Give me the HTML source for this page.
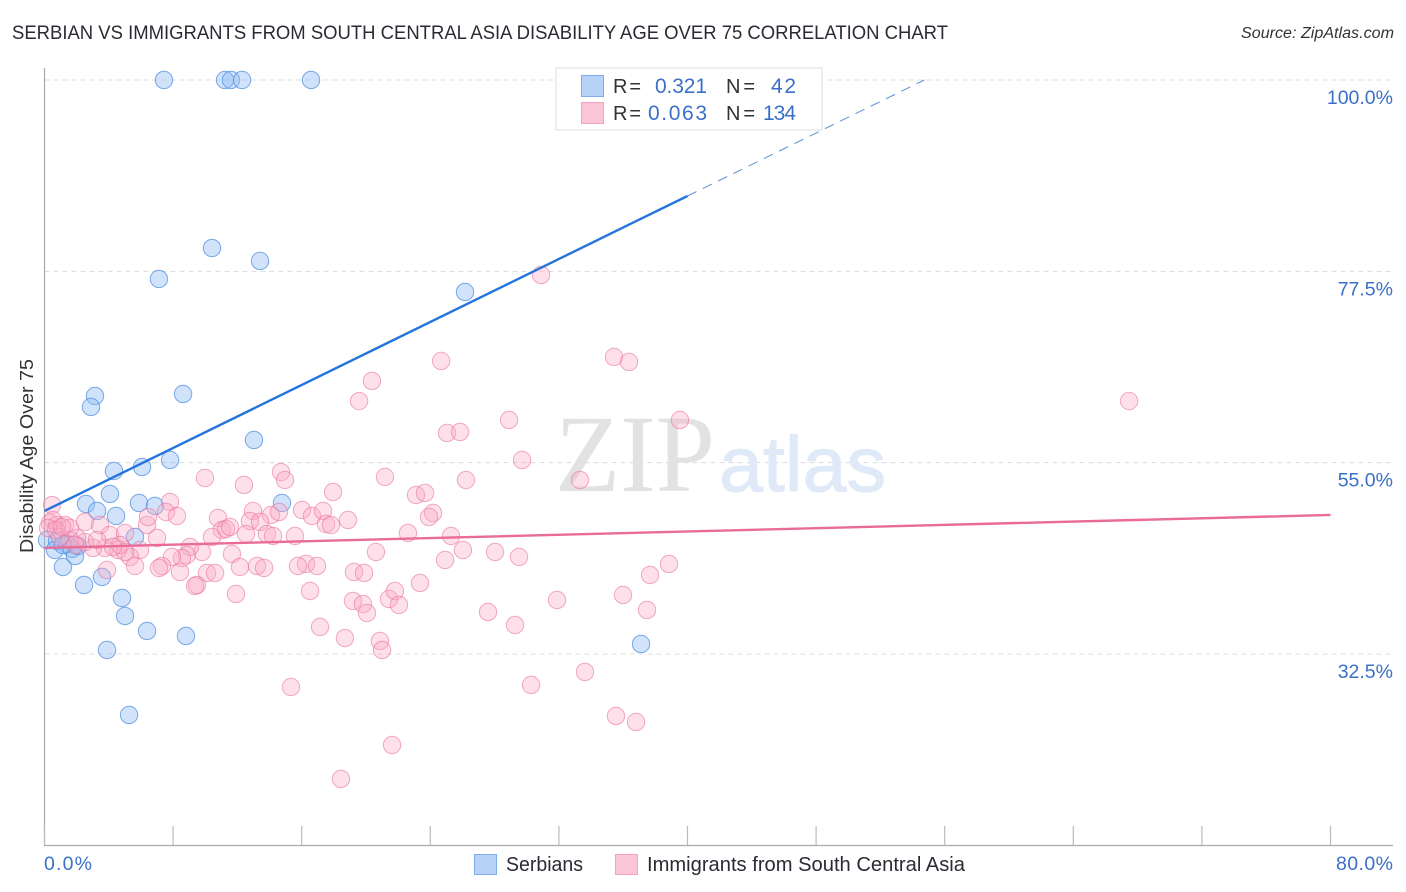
<!DOCTYPE html>
<html lang="en">
<head>
<meta charset="utf-8">
<title>Serbian vs Immigrants from South Central Asia Disability Age Over 75 Correlation Chart</title>
<style>
html,body{margin:0;padding:0;background:#fff;}
svg{display:block;font-family:"Liberation Sans",sans-serif;}
</style>
</head>
<body>
<svg id="chart" width="1406" height="892" viewBox="0 0 1406 892" xmlns="http://www.w3.org/2000/svg">
  <rect x="0" y="0" width="1406" height="892" fill="#fff"/>
  <text x="12" y="39" font-size="19" fill="#2a2a33" textLength="936" lengthAdjust="spacingAndGlyphs">SERBIAN VS IMMIGRANTS FROM SOUTH CENTRAL ASIA DISABILITY AGE OVER 75 CORRELATION CHART</text>
  <text x="1241" y="38" font-size="15.5" font-style="italic" fill="#333" textLength="153" lengthAdjust="spacingAndGlyphs">Source: ZipAtlas.com</text>
  <g id="grid"></g>
  <g>
    <text x="555" y="491" font-family="'Liberation Serif',serif" font-size="110" fill="#e2e2e2" textLength="160" lengthAdjust="spacingAndGlyphs">ZIP</text>
    <text x="719" y="491" font-size="78" fill="#dfe9f7" stroke="#dfe9f7" stroke-width="1" textLength="167" lengthAdjust="spacingAndGlyphs">atlas</text>
  </g>
  <g id="axes"></g>
  <g id="points-serbians"></g>
  <g id="points-immigrants"></g>
  <g id="trends"></g>
  <g>
    <rect x="556" y="68" width="266" height="62" fill="#fff" stroke="#dcdcdc" stroke-width="1"/>
    <rect x="581.5" y="75.5" width="22" height="21" fill="#b7d2f7" stroke="#7fadea" stroke-width="1"/>
    <rect x="581.5" y="102.5" width="22" height="21" fill="#fcc5d8" stroke="#f2a3c0" stroke-width="1"/>
    <g font-size="20">
      <text x="613" y="93" fill="#333" textLength="28" lengthAdjust="spacing">R =</text>
      <text x="655" y="93" fill="#3a70c8" font-size="21" textLength="52" lengthAdjust="spacing">0.321</text>
      <text x="726" y="93" fill="#333" textLength="29" lengthAdjust="spacing">N =</text>
      <text x="771" y="93" fill="#3a70c8" font-size="21" textLength="25" lengthAdjust="spacing">42</text>
      <text x="613" y="120" fill="#333" textLength="28" lengthAdjust="spacing">R =</text>
      <text x="648" y="120" fill="#3a70c8" font-size="21" textLength="59" lengthAdjust="spacing">0.063</text>
      <text x="726" y="120" fill="#333" textLength="29" lengthAdjust="spacing">N =</text>
      <text x="763" y="120" fill="#3a70c8" font-size="21" textLength="33" lengthAdjust="spacing">134</text>
    </g>
  </g>
  <text transform="translate(33,456) rotate(-90)" font-size="18" fill="#333" text-anchor="middle" textLength="194" lengthAdjust="spacingAndGlyphs">Disability Age Over 75</text>
  <g>
    <rect x="474.5" y="854.5" width="22" height="20" fill="#b7d2f7" stroke="#7fadea" stroke-width="1"/>
    <text x="506" y="871" font-size="20" fill="#2a2a33" textLength="77" lengthAdjust="spacingAndGlyphs">Serbians</text>
    <rect x="615.5" y="854.5" width="22" height="20" fill="#fcc5d8" stroke="#f2a3c0" stroke-width="1"/>
    <text x="647" y="871" font-size="20" fill="#2a2a33" textLength="318" lengthAdjust="spacingAndGlyphs">Immigrants from South Central Asia</text>
  </g>
</svg>
<script>
var xTickValues = [0, 8, 16, 24, 32, 40, 48, 56, 64, 72, 80];
var xTickLabels = ["0.0%", "80.0%"];
var yTickValues = [100, 77.5, 55, 32.5];
var yTickLabels = ["100.0%", "77.5%", "55.0%", "32.5%"];

var serbiansX = [7.43,11.23,11.60,12.29,16.58,10.42,13.41,7.12,26.16,3.14,8.62,2.89,13.03,7.81,4.32,6.07,4.07,2.58,5.88,6.87,14.77,3.27,4.45,5.63,1.15,3.58,2.46,4.82,5.01,6.38,8.80,3.89,5.26,37.11,0.16,0.78,0.65,1.40,1.71,1.90,2.08,1.15];
var serbiansY = [100,100,100,100,100,80.24,78.72,76.60,75.07,62.84,63.08,61.55,57.67,55.32,54.02,54.49,51.32,50.14,50.26,49.91,50.26,49.32,48.73,46.26,42.73,41.56,40.62,39.09,36.97,35.21,34.62,32.97,25.33,33.68,45.91,45.79,44.73,45.44,44.85,44.03,45.20,45.32];

var immigrantsX = [67.47,39.53,30.89,35.43,36.36,24.67,20.37,19.57,28.90,25.04,25.85,29.71,33.31,26.22,21.18,9.98,12.41,14.71,14.96,17.95,23.11,23.67,16.02,16.64,17.33,17.51,17.82,18.88,24.17,23.92,22.61,25.29,26.03,20.62,24.92,28.03,29.52,15.58,16.27,16.95,19.25,19.88,23.36,12.97,14.09,14.59,10.79,12.78,13.41,11.04,11.29,11.54,10.42,12.54,13.84,14.22,11.66,9.80,9.05,12.16,13.22,13.66,15.77,10.11,10.61,9.49,9.36,11.91,16.52,19.19,19.81,20.06,21.43,21.80,22.05,17.14,18.69,20.87,21.00,15.33,21.62,18.44,31.88,27.59,29.27,35.99,37.67,38.85,37.48,33.62,30.27,35.55,36.80,0.47,0.34,0.78,1.28,2.52,3.45,4.07,5.01,6.38,6.44,7.81,7.56,8.24,7.00,5.94,5.32,5.63,4.57,3.76,3.02,2.52,2.02,1.59,0.96,3.89,8.86,8.55,7.93,7.31,7.12,8.43,3.27,4.70,5.01,0.53,0.22,0.72,1.59,1.09,4.26,1.90];
var immigrantsY = [62.25,60.02,77.07,67.43,66.84,66.96,64.61,62.25,60.02,58.49,58.61,55.32,52.96,52.96,53.32,53.20,52.38,53.90,52.96,51.55,51.20,51.44,49.44,48.73,49.32,47.79,47.67,48.26,49.08,48.61,46.73,46.38,44.73,44.50,43.56,44.50,43.91,46.38,43.09,42.85,42.15,42.03,40.85,49.32,48.85,49.20,48.50,48.14,48.03,47.08,47.20,47.44,46.26,46.61,46.61,46.38,44.26,44.50,45.09,42.73,42.85,42.62,42.85,42.03,42.03,40.62,40.50,39.56,39.91,38.74,38.38,37.32,38.97,39.91,38.27,35.68,34.38,34.03,32.97,28.62,21.80,17.80,38.85,37.44,35.91,39.44,41.79,43.09,37.68,30.39,28.86,25.21,24.51,50.02,47.91,47.67,47.67,48.03,47.67,46.50,46.73,47.67,48.61,50.38,49.20,48.73,46.14,44.73,43.91,42.85,44.73,44.97,44.97,45.67,46.14,45.91,46.26,42.38,44.14,43.79,43.91,42.85,42.62,42.15,45.91,45.32,44.50,48.26,47.32,47.08,47.32,47.44,45.09,45.32];

var serbiansTrend = [49.32, 0.926];
var immigrantsTrend = [44.97, 0.0485];

var NS = "http://www.w3.org/2000/svg";
function xScale(v) { return 44.5 + v * (1286 / 80); }
function yScale(v) { return 80 + (100 - v) * (574 / 67.5); }
function trendAt(t, x) { return t[0] + t[1] * x; }
function xAtValue(t, y) { return (y - t[0]) / t[1]; }
function make(tag, attrs, parent) {
  var el = document.createElementNS(NS, tag);
  for (var k in attrs) el.setAttribute(k, attrs[k]);
  parent.appendChild(el);
  return el;
}

var grid = document.getElementById("grid");
var axes = document.getElementById("axes");

yTickValues.forEach(function (v, i) {
  var g = make("line", {x1: 44.5, x2: 1393, y1: yScale(v), y2: yScale(v), stroke: "#dcdcdc", "stroke-width": 1, "stroke-dasharray": "5 4"}, grid);
  
  
  var t = make("text", {x: 1393, y: yScale(v) + 24, "text-anchor": "end", "font-size": 19.5, fill: "#3a70c8"}, axes);
  
  
  t.textContent = yTickLabels[i];
});

var yAxis = make("line", {x1: 44.5, x2: 44.5, y1: 68, y2: 845.5, stroke: "#aaa", "stroke-width": 1.2}, axes);


var xAxis = make("line", {x1: 44, x2: 1393, y1: 845.5, y2: 845.5, stroke: "#aaa", "stroke-width": 1.2}, axes);



xTickValues.forEach(function (v) {
  var tk = make("line", {x1: xScale(v), x2: xScale(v), y1: 826, y2: 845, stroke: "#bbb", "stroke-width": 1.2}, axes);
  
  
});

var xLabelLeft = make("text", {x: 44, y: 870, "font-size": 19.5, fill: "#3a70c8", textLength: 48, lengthAdjust: "spacing"}, axes);


xLabelLeft.textContent = xTickLabels[0];
var xLabelRight = make("text", {x: 1336, y: 870, "font-size": 19.5, fill: "#3a70c8", textLength: 57, lengthAdjust: "spacing"}, axes);


xLabelRight.textContent = xTickLabels[1];

var gBlue = document.getElementById("points-serbians");
serbiansX.forEach(function (v, i) {
  var c = make("circle", {cx: xScale(v), cy: yScale(serbiansY[i]), r: 8.7, fill: "#8fbcf2", "fill-opacity": 0.42, stroke: "#4f8fe0", "stroke-opacity": 0.75, "stroke-width": 1}, gBlue);
  
  
});

var gPink = document.getElementById("points-immigrants");
immigrantsX.forEach(function (v, i) {
  var c = make("circle", {cx: xScale(v), cy: yScale(immigrantsY[i]), r: 8.7, fill: "#f9a9c4", "fill-opacity": 0.36, stroke: "#e9709c", "stroke-opacity": 0.58, "stroke-width": 1}, gPink);
  
  
});

var trends = document.getElementById("trends");
var solidEnd = 40;
var blueLine = make("line", {x1: xScale(0), y1: yScale(trendAt(serbiansTrend, 0)), x2: xScale(solidEnd), y2: yScale(trendAt(serbiansTrend, solidEnd)), stroke: "#2474dc", "stroke-width": 2.4}, trends);


var xTop = xAtValue(serbiansTrend, 100);
var blueDash = make("line", {x1: xScale(solidEnd), y1: yScale(trendAt(serbiansTrend, solidEnd)), x2: xScale(xTop), y2: yScale(100), stroke: "#5b8fd6", "stroke-width": 1, "stroke-dasharray": "10 7"}, trends);


var pinkLine = make("line", {x1: xScale(0), y1: yScale(trendAt(immigrantsTrend, 0)), x2: xScale(80), y2: yScale(trendAt(immigrantsTrend, 80)), stroke: "#ea6a98", "stroke-width": 2.4}, trends);


</script>
</body>
</html>
